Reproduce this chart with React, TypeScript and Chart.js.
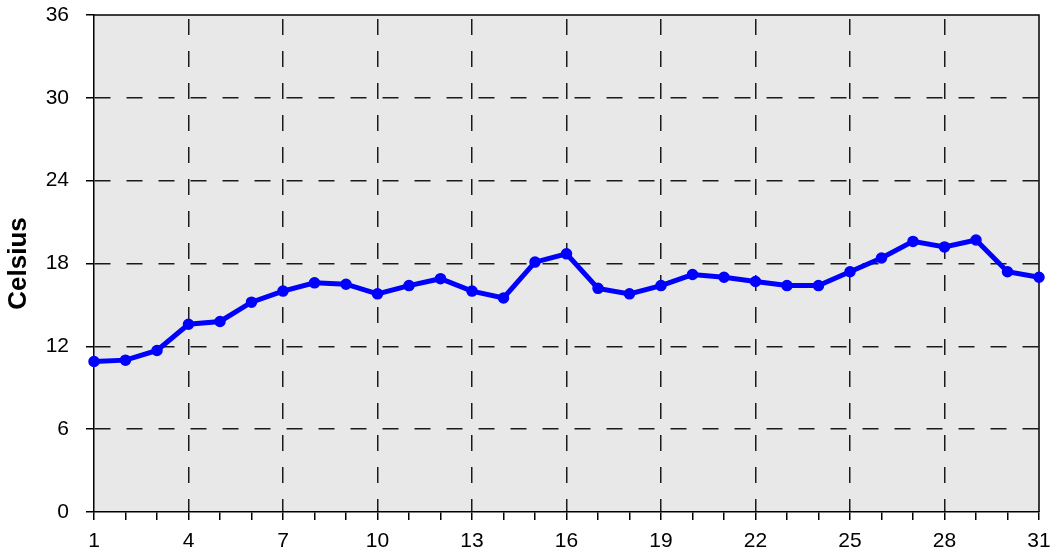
import React, { useEffect, useRef } from "react";
import { Chart, registerables } from "chart.js";

Chart.register(...registerables);

const days: number[] = [1,2,3,4,5,6,7,8,9,10,11,12,13,14,15,16,17,18,19,20,21,22,23,24,25,26,27,28,29,30,31];
const celsius: number[] = [10.9,11.0,11.7,13.6,13.8,15.2,16.0,16.6,16.5,15.8,16.4,16.9,16.0,15.5,18.1,18.7,16.2,15.8,16.4,17.2,17.0,16.7,16.4,16.4,17.4,18.4,19.6,19.2,19.7,17.4,17.0];
const yTitle = "Celsius";
const yMin = 0, yMax = 36, yStep = 6;
const xMin = 1, xMax = 31, xLabelEvery = 3;

const frame = {
  id: "frame",
  beforeDraw(chart: any) {
    const { ctx, chartArea: a } = chart;
    ctx.save();
    ctx.fillStyle = "#e8e8e8";
    ctx.fillRect(a.left, a.top, a.right - a.left, a.bottom - a.top);
    ctx.restore();
  },
  beforeDatasetsDraw(chart: any) {
    const { ctx, chartArea: a } = chart;
    ctx.save();
    ctx.strokeStyle = "#000";
    ctx.lineWidth = 1.5;
    ctx.beginPath();
    ctx.moveTo(a.left, a.top);
    ctx.lineTo(a.right, a.top);
    ctx.lineTo(a.right, a.bottom);
    ctx.stroke();
    ctx.restore();
  },
};

export default function App() {
  const ref = useRef<HTMLCanvasElement>(null);
  useEffect(() => {
    const font = "'Liberation Sans', Arial, sans-serif";
    const chart = new Chart(ref.current!, {
      type: "line",
      data: {
        datasets: [
          {
            data: days.map((d, i) => ({ x: d, y: celsius[i] })),
            borderColor: "#0000ff",
            backgroundColor: "#0000ff",
            borderWidth: 5,
            pointRadius: 5,
            pointBorderWidth: 1.5,
            pointBackgroundColor: "#0000ff",
            pointBorderColor: "#0000ff",
            tension: 0,
            clip: false as any,
          },
        ],
      },
      options: {
        responsive: false,
        animation: false,
        devicePixelRatio: 1,
        layout: { padding: { top: 15, right: 17, left: 0, bottom: 0 } },
        plugins: { legend: { display: false }, tooltip: { enabled: false } },
        scales: {
          x: {
            type: "linear",
            min: xMin,
            max: xMax,
            offset: false,
            afterFit: (s: any) => { s.height = 43; s.paddingLeft = 0; s.paddingRight = 0; },
            afterBuildTicks: (s: any) => {
              const t = [];
              for (let v = xMin; v <= xMax; v++) t.push({ value: v });
              s.ticks = t;
            },
            ticks: {
              autoSkip: false,
              maxRotation: 0,
              padding: 9,
              color: "#000",
              font: { family: font, size: 21 },
              callback: (v: any) => ((Number(v) - xMin) % xLabelEvery === 0 ? String(v) : ""),
            },
            grid: {
              color: (c: any) => {
                const v = c.tick?.value;
                if (v === xMin || v === xMax) return "rgba(0,0,0,0)";
                return (v - xMin) % xLabelEvery === 0 ? "#1a1a1a" : "rgba(0,0,0,0)";
              },
              lineWidth: 1.5,
              tickColor: "#000",
              tickWidth: 1.5,
              tickLength: 8,
              drawTicks: true,
            },
            border: { display: true, color: "#000", width: 1.5, dash: [16, 16], dashOffset: -4 },
          },
          y: {
            type: "linear",
            min: yMin,
            max: yMax,
            afterFit: (s: any) => { s.width = 94; s.paddingTop = 0; s.paddingBottom = 0; },
            ticks: {
              stepSize: yStep,
              padding: 17,
              color: "#000",
              font: { family: font, size: 21 },
            },
            grid: {
              color: (c: any) => {
                const v = c.tick?.value;
                return v === yMin || v === yMax ? "rgba(0,0,0,0)" : "#1a1a1a";
              },
              lineWidth: 1.5,
              tickColor: "#000",
              tickWidth: 1.5,
              tickLength: 8,
            },
            border: { display: true, color: "#000", width: 1.5, dash: [16, 16], dashOffset: 0 },
            title: {
              display: true,
              text: yTitle,
              color: "#000",
              font: { family: font, size: 26, weight: "bold" },
              padding: { top: 3, bottom: 0 },
            },
          },
        },
      },
      plugins: [frame],
    });
    return () => chart.destroy();
  }, []);
  return (
    <div style={{ position: "fixed", left: 0, top: 0, width: 1056, height: 555, background: "#fff" }}>
      <canvas ref={ref} width={1056} height={555} style={{ width: 1056, height: 555, display: "block" }} />
    </div>
  );
}
